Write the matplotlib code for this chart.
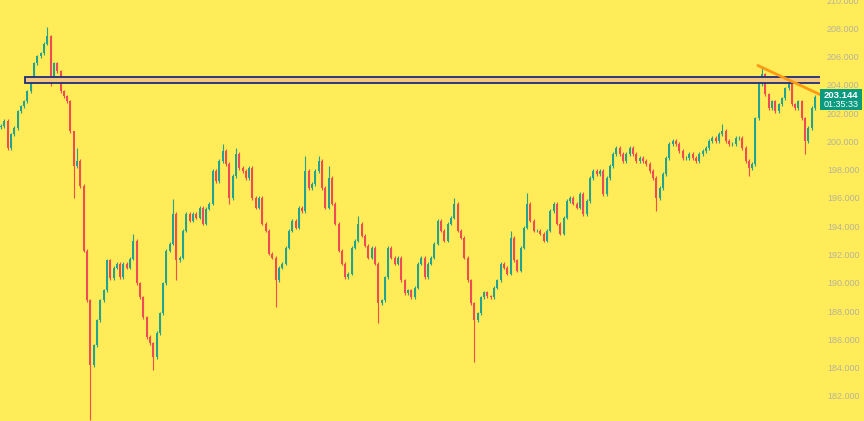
import matplotlib.pyplot as plt
import matplotlib.patches as mpatches
import numpy as np

# closing prices left to right
closes = [
    201.08, 201.43, 199.53, 200.51, 200.94, 202.13, 202.49, 202.84, 203.54, 204.25,
    205.51, 206.01, 206.22, 206.92, 207.42, 204.60, 205.51, 204.95, 203.54, 203.19,
    202.84, 200.73, 198.26, 198.62, 196.86, 192.28, 188.76, 184.18, 185.59, 187.35,
    188.76, 189.46, 191.58, 190.31, 191.08, 191.36, 190.38, 191.36, 191.08, 191.72,
    192.98, 189.96, 188.97, 187.56, 186.16, 185.73, 184.75, 186.44, 187.84, 189.96,
    192.28, 192.77, 194.88, 191.58, 191.79, 193.69, 194.88, 194.39, 194.88, 194.60,
    195.31, 194.18, 195.24, 195.59, 197.91, 197.21, 198.62, 199.32, 198.40, 196.01,
    197.56, 199.11, 198.12, 197.91, 197.42, 198.12, 196.01, 195.31, 196.01, 194.18,
    193.69, 192.07, 191.79, 190.17, 191.08, 191.36, 192.49, 193.69, 194.39, 193.90,
    195.31, 195.09, 197.91, 196.71, 197.00, 197.91, 198.62, 196.71, 195.31, 197.42,
    195.59, 194.18, 192.28, 191.36, 190.38, 190.66, 192.49, 192.98, 194.18, 193.33,
    192.63, 191.79, 192.49, 191.36, 188.54, 188.76, 190.38, 192.49, 191.79, 191.36,
    191.79, 190.17, 189.25, 189.46, 188.97, 189.67, 191.36, 191.79, 190.38, 191.36,
    191.79, 192.77, 194.39, 193.69, 192.98, 194.18, 194.60, 195.59, 193.69, 193.19,
    191.79, 190.17, 188.54, 187.35, 187.84, 188.97, 189.32, 189.04, 188.97, 189.67,
    190.17, 191.36, 191.08, 190.66, 193.19, 191.58, 190.87, 192.49, 193.90, 195.59,
    194.39, 193.69, 193.69, 193.48, 192.98, 193.69, 195.09, 195.59, 194.18, 193.48,
    194.60, 195.80, 196.01, 195.59, 195.31, 196.29, 194.88, 195.80, 197.42, 197.91,
    197.70, 197.91, 196.29, 197.42, 198.26, 199.11, 199.53, 199.11, 198.62, 199.11,
    199.53, 199.11, 198.62, 198.83, 198.62, 198.40, 197.91, 197.42, 196.01, 196.71,
    197.70, 198.83, 199.81, 200.02, 199.81, 199.32, 198.83, 198.83, 199.11, 198.83,
    198.62, 199.11, 199.32, 199.53, 200.02, 200.23, 200.02, 200.52, 200.73, 200.02,
    199.81, 199.81, 200.23, 200.23, 199.53, 198.62, 198.12, 198.40, 201.64, 204.04,
    204.74, 203.33, 202.35, 202.84, 202.13, 202.63, 203.05, 203.75, 204.25, 202.63,
    202.35, 202.84, 201.64, 200.02, 200.94, 202.35, 203.14,
]
first_open = 201.0

# long wicks that stick out
wick_highs = {14: 208.12, 22: 199.32, 23: 199.53, 40: 193.48, 52: 195.94, 67: 199.81,
              71: 199.53, 92: 198.97, 96: 198.97, 99: 198.26, 108: 194.74, 137: 196.01,
              154: 193.69, 159: 196.36, 218: 201.22, 230: 205.30, 238: 204.39}
wick_lows = {15: 203.89, 22: 196.01, 27: 180.31, 46: 183.83, 53: 190.17, 69: 195.59,
             83: 188.26, 114: 187.13, 143: 184.39, 198: 195.09, 226: 197.56, 243: 199.11}

# drawings
zone_start = 7.3
zone_low, zone_high = 204.10, 204.55
trend_x = [228.7, 248.0]
trend_y = [205.37, 203.26]

last_price = "203.144"
countdown = "01:35:33"
price_ticks = np.arange(182, 211, 2)

bg = '#ffec58'
up_col = '#22a391'
down_col = '#ef4a55'

n = len(closes)
opens = [first_open] + closes[:-1]
x = np.arange(n)
pad = 0.12
highs = [wick_highs.get(i, max(opens[i], closes[i]) + pad) for i in range(n)]
lows = [wick_lows.get(i, min(opens[i], closes[i]) - pad) for i in range(n)]
colors = [up_col if closes[i] >= opens[i] else down_col for i in range(n)]

fig = plt.figure(figsize=(8.64, 4.21), dpi=100, facecolor=bg)
ax = fig.add_axes([0, 0, 820 / 864, 1])
ax.set_facecolor(bg)

ax.vlines(x, lows, highs, colors=colors, linewidth=0.8)
bottoms = np.minimum(opens, closes)
heights = np.abs(np.array(closes) - np.array(opens))
ax.bar(x, heights, bottom=bottoms, width=0.6, color=colors, linewidth=0)

# horizontal zone
ax.add_patch(mpatches.Rectangle((zone_start, zone_low), 300, zone_high - zone_low,
                                facecolor='#f5c77c', edgecolor='#1f2d7a', linewidth=1.3, zorder=3))
# trend line
ax.plot(trend_x, trend_y, color='#ff9a12', linewidth=2, solid_capstyle='round', zorder=4, clip_on=False)

ax.set_xlim(-0.3, 247.5)
ax.set_ylim(180.23, 209.88)
ax.yaxis.tick_right()
ax.set_yticks(price_ticks)
ax.set_yticklabels([f'{v:.3f}' for v in price_ticks], fontfamily='Liberation Sans')
ax.tick_params(axis='y', length=0, pad=5, labelsize=6.5, labelcolor='#b5b39c')
ax.set_xticks([])
for s in ax.spines.values():
    s.set_visible(False)

# last price tag
fig.patches.append(mpatches.Rectangle((820 / 864, 1 - 110 / 421), 42 / 864, 21 / 421,
                                      transform=fig.transFigure, facecolor='#0a9a80',
                                      edgecolor='none', zorder=5))
fig.text(841 / 864, 1 - 95.5 / 421, last_price, color='white', fontsize=6.8, fontweight='bold',
         fontfamily='Liberation Sans', ha='center', va='center', zorder=6)
fig.text(841 / 864, 1 - 104.5 / 421, countdown, color='white', fontsize=6.5,
         fontfamily='Liberation Sans', ha='center', va='center', zorder=6)

plt.savefig('out.png', dpi=100, facecolor=bg)
